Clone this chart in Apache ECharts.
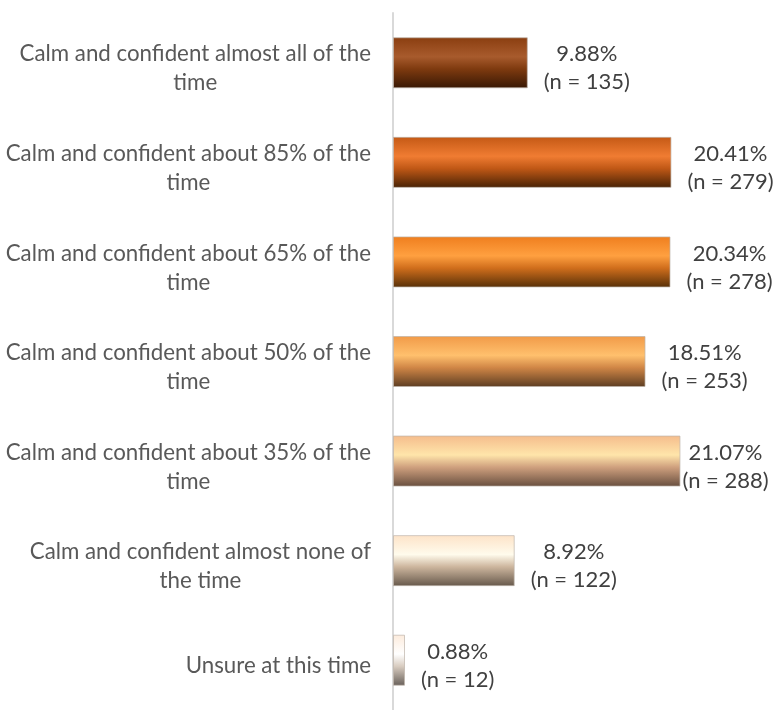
<!DOCTYPE html>
<html>
<head>
<meta charset="utf-8">
<script src="https://cdn.jsdelivr.net/npm/echarts@6/dist/echarts.min.js"></script>
<style>
html,body{margin:0;padding:0;background:#fff;}
#chart{width:784px;height:710px;}
</style>
</head>
<body>
<div id="chart"></div>
<script>
var categories = [
  "Calm and confident almost all of the\ntime",
  "Calm and confident about 85% of the\ntime",
  "Calm and confident about 65% of the\ntime",
  "Calm and confident about 50% of the\ntime",
  "Calm and confident about 35% of the\ntime",
  "Calm and confident almost none of\nthe time",
  "Unsure at this time"
];
var percents = [9.88, 20.41, 20.34, 18.51, 21.07, 8.92, 0.88];
var counts = [135, 279, 278, 253, 288, 122, 12];

// gradient styles per bar: [top, highlight, mid, bottom]
var barShades = [
  ["#8A3E10", "#A85B2D", "#7E3A0F", "#381805"],
  ["#C45915", "#F07C32", "#C05816", "#472205"],
  ["#EF7E1E", "#FFA040", "#D06E1C", "#573008"],
  ["#F19A48", "#FFC06D", "#D08646", "#5C3D22"],
  ["#F5BC8C", "#FFE5AA", "#CFA07E", "#684F3F"],
  ["#FDE3C8", "#FFFBEC", "#CDB69E", "#66584B"],
  ["#FCEBDC", "#FFFFFF", "#D8CCC0", "#68605A"]
];

var fontFam = "Lato, 'Noto Sans', sans-serif";

var seriesData = percents.map(function (v, i) {
  var s = barShades[i];
  var item = {
    value: v,
    itemStyle: {
      color: new echarts.graphic.LinearGradient(0, 0, 0, 1, [
        { offset: 0, color: s[0] },
        { offset: 0.38, color: s[1] },
        { offset: 0.62, color: s[2] },
        { offset: 1, color: s[3] }
      ])
    }
  };
  if (i === 4) {
    item.label = { distance: 2 };
  }
  return item;
});

var chart = echarts.init(document.getElementById('chart'));
chart.setOption({
  animation: false,
  grid: { left: 393, top: 13, height: 702, width: 382, containLabel: false },
  xAxis: {
    type: 'value', min: 0, max: 28,
    show: false
  },
  yAxis: {
    type: 'category',
    data: categories,
    inverse: true,
    axisLine: { show: true, lineStyle: { color: '#D9D9D9', width: 2 } },
    axisTick: { show: false },
    axisLabel: {
      margin: 22,
      align: 'right',
      formatter: function (v) {
        return '{e| }\n' + v.split('\n').map(function (t) { return '{c|' + t + '}'; }).join('\n');
      },
      rich: {
        e: { fontSize: 1, lineHeight: 12 },
        c: { color: '#595959', fontSize: 22.3, lineHeight: 29, fontFamily: fontFam, align: 'center' }
      }
    }
  },
  series: [{
    type: 'bar',
    data: seriesData,
    barWidth: 51,
    itemStyle: { borderColor: 'rgba(190,180,170,0.7)', borderWidth: 1 },
    label: {
      show: true,
      position: 'right',
      distance: 16,
      padding: [11, 0, 0, 0],
      formatter: function (p) {
        return '{a|' + percents[p.dataIndex].toFixed(2) + '%}\n{a|(n = ' + counts[p.dataIndex] + ')}';
      },
      rich: {
        a: { align: 'center', color: '#404040', fontSize: 22, lineHeight: 28, fontFamily: fontFam }
      }
    }
  }]
});
</script>
</body>
</html>
